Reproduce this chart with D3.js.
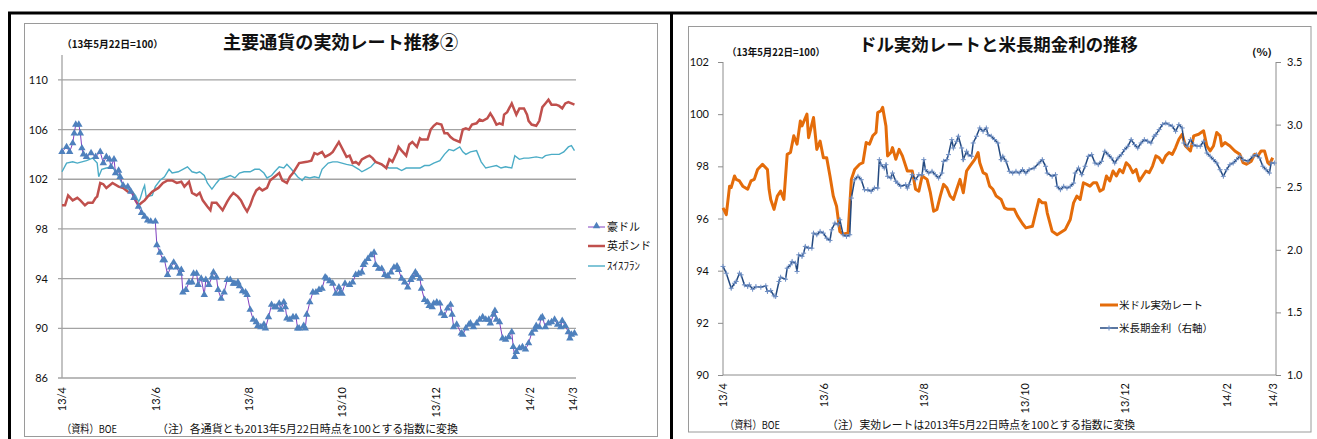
<!DOCTYPE html>
<html><head><meta charset="utf-8">
<script src="https://cdn.jsdelivr.net/npm/d3@7"></script>
<style>
body{margin:0;background:#fff}
svg{display:block}
text{font-family:Lato,"Noto Sans CJK JP",sans-serif;fill:#111}
</style>
</head><body>
<svg id="c" width="1317" height="439"></svg>
<script>
// ---------- DATA (days = days since 2013-04-01) ----------
const xTickDates = ["2013-04-01","2013-06-01","2013-08-01","2013-10-01","2013-12-01","2014-02-01","2014-03-01"];
const xTickLabels = ["13/4","13/6","13/8","13/10","13/12","14/2","14/3"];
const leftYTicks = [86,90,94,98,102,106,110];
const rightLYTicks = [90,92,94,96,98,100,102];
const rightRYTicks = [1.0,1.5,2.0,2.5,3.0,3.5];

const audDays = [0,3,5,7,8,9,11,12,13,14,16,19,22,25,27,29,31,32,34,35,37,38,40,43,45,47,50,52,54,56,58,61,62,64,66,67,69,71,73,75,77,78,79,81,83,85,86,88,89,91,93,94,96,98,99,101,102,104,106,108,110,112,113,115,116,118,120,121,123,125,127,128,130,132,133,135,137,139,140,142,143,145,146,147,149,151,153,154,155,158,159,160,162,164,166,168,170,172,173,175,177,179,181,182,183,185,188,190,192,194,196,197,198,200,202,204,205,207,209,211,213,215,217,219,220,222,224,226,228,229,231,232,234,235,237,239,240,242,243,245,247,248,250,252,254,255,256,258,261,262,264,266,267,269,271,273,275,277,279,280,282,283,284,286,288,290,292,294,295,296,297,299,301,303,305,307,309,310,312,313,314,316,318,320,322,324,326,327,329,331,332,333,335];
const audVals = [104.2,104.6,104.2,104.9,105.7,106.4,106.4,105.7,104.5,104.0,103.8,104.1,103.8,104.2,103.3,103.8,103.6,103.0,103.6,102.5,102.7,102.2,101.5,101.4,101.0,100.5,99.8,99.3,99.0,98.7,98.6,98.6,96.7,96.1,95.5,95.5,94.3,94.9,95.3,94.9,94.4,94.7,92.9,93.1,93.7,93.7,94.4,94.4,93.5,94.0,92.7,93.9,93.5,94.1,94.5,94.1,93.1,92.4,92.9,93.9,93.9,93.6,93.6,93.7,93.4,93.0,92.9,92.7,91.5,90.7,90.5,90.2,90.1,90.3,90.0,90.9,91.9,91.7,91.7,92.0,91.5,92.1,91.7,90.8,90.7,90.9,90.9,90.0,90.0,90.2,90.0,91.1,92.1,92.9,92.9,93.1,93.2,94.1,94.0,93.8,93.6,92.8,93.3,92.9,92.8,93.6,93.5,93.7,94.3,94.4,94.5,95.1,95.3,95.6,95.9,96.1,95.1,94.8,94.8,94.3,94.2,94.5,94.9,95.0,94.7,94.0,93.7,93.3,93.9,94.1,94.5,94.3,94.0,93.2,92.3,92.1,91.8,91.7,92.0,92.1,92.0,91.2,91.0,91.6,91.9,91.1,90.1,90.3,89.6,89.5,90.0,90.3,90.4,90.1,90.4,90.7,90.9,90.7,90.7,90.4,91.1,91.4,90.7,90.5,89.2,89.1,89.3,89.7,88.5,87.7,88.1,88.4,88.5,88.3,88.8,89.6,89.9,90.2,90.1,90.8,90.9,90.1,90.4,90.5,90.7,90.3,90.1,90.6,90.2,89.7,89.2,89.5,89.6];

const gbpDays = [0,2,4,7,10,12,15,17,20,22,23,25,27,29,31,33,37,40,43,46,48,50,52,54,56,59,63,66,69,72,75,78,80,83,85,88,90,92,95,97,98,101,103,105,108,110,112,115,117,119,121,123,125,127,129,131,134,136,139,142,144,147,149,151,153,155,160,163,165,167,170,172,175,177,179,181,186,188,190,192,194,196,199,201,203,205,207,209,212,214,216,219,220,222,225,227,229,232,234,235,239,241,243,245,248,250,252,254,256,260,262,264,266,268,271,273,275,278,280,282,284,286,288,289,291,294,296,297,299,302,304,305,307,310,312,314,316,318,320,323,325,327,329,331,335];
const gbpVals = [99.9,99.9,100.7,100.3,100.5,100.3,99.9,100.1,100.1,100.5,100.6,101.7,101.6,101.3,101.5,101.7,101.4,101.3,101.0,100.9,100.3,99.9,100.1,100.3,100.6,101.0,101.3,101.7,101.9,101.9,101.7,101.8,101.4,101.8,100.9,100.7,100.9,100.3,99.8,99.5,100.1,100.1,99.8,99.5,100.2,100.6,100.9,100.6,100.3,99.8,99.4,99.9,100.6,101.1,101.3,101.1,101.3,101.9,102.2,102.5,101.9,101.7,102.2,102.5,102.9,103.3,103.4,103.5,104.1,104.0,104.2,103.8,104.0,104.2,104.6,105.0,103.8,103.9,103.3,103.4,103.2,103.6,103.8,103.9,103.7,103.4,103.3,103.2,102.9,103.6,103.4,104.2,104.6,104.3,103.9,104.8,105.0,104.6,105.3,105.2,105.2,106.0,106.3,106.5,106.4,105.7,105.7,105.4,105.2,105.0,106.0,106.1,106.0,106.4,106.5,106.8,106.7,106.9,107.3,106.9,106.4,106.5,106.4,107.2,107.4,108.1,107.5,107.2,107.7,107.7,107.2,106.7,106.4,106.3,106.7,107.8,108.1,108.4,108.0,108.0,107.9,107.7,108.1,108.2,108.0];

const chfDays = [0,3,7,10,13,16,18,20,23,24,26,29,33,35,37,40,43,46,48,50,51,53,54,55,59,61,64,67,70,72,76,79,82,85,88,90,93,95,98,101,103,106,110,113,116,119,123,126,129,132,134,137,139,142,145,147,150,152,154,157,159,162,165,168,170,174,177,180,186,190,194,196,199,202,205,207,211,214,219,222,225,229,234,237,240,243,247,250,253,256,260,262,264,267,271,274,277,280,284,287,290,294,296,299,302,305,310,314,316,320,325,328,331,333,335];
const chfVals = [102.6,103.3,103.4,103.3,103.4,103.5,103.6,103.7,103.3,102.2,102.8,102.9,103.0,102.6,102.2,101.5,101.2,101.0,100.7,100.2,100.4,101.2,101.5,100.6,100.7,101.4,101.9,102.2,102.8,102.5,102.6,102.8,103.0,102.6,102.5,102.6,102.3,101.7,101.2,101.7,102.0,102.1,102.3,102.1,102.5,102.6,102.6,102.8,102.8,102.5,102.1,102.3,102.6,103.0,102.9,103.2,102.8,102.5,102.2,101.9,102.2,102.1,102.2,102.1,102.8,103.3,103.4,103.4,103.2,103.1,102.8,102.6,102.8,103.0,103.4,103.3,103.0,102.9,102.9,102.7,102.9,102.9,102.9,103.1,103.1,103.3,103.5,104.0,104.4,104.3,104.6,104.2,104.0,104.2,104.3,103.4,102.9,103.0,103.1,102.9,103.0,102.9,103.9,103.6,103.7,103.7,103.8,103.7,103.9,104.0,104.0,104.2,104.6,104.7,104.3];

const usdDays = [0,2,4,5,7,8,10,12,15,17,19,21,24,27,28,29,31,33,35,37,39,41,43,45,47,48,51,52,55,57,59,61,63,65,67,69,71,73,76,78,80,83,85,87,89,91,93,94,96,97,99,100,102,103,105,107,109,112,115,117,119,121,124,126,128,130,132,134,136,138,140,142,144,146,148,150,153,155,156,158,160,162,164,166,169,171,173,175,177,179,182,184,188,190,192,194,196,197,200,203,208,211,213,215,217,219,221,223,225,227,229,231,233,235,237,239,241,243,245,247,249,251,253,255,257,259,261,263,265,267,269,271,273,275,277,279,281,284,286,289,292,294,296,298,300,302,303,305,308,311,314,316,318,321,323,325,327,329,331,332,334];
const usdVals = [96.41,96.15,97.24,97.19,97.63,97.5,97.44,97.24,97.12,97.44,97.5,97.88,98.08,97.88,97.12,96.73,96.35,96.86,97.05,96.73,98.46,98.53,99.17,98.85,99.74,99.55,100.0,99.1,99.87,98.65,98.97,98.33,98.33,97.63,96.86,96.47,95.5,95.4,95.45,97.5,97.88,98.08,98.14,98.91,98.85,99.17,99.3,100.06,100.13,100.26,99.55,98.4,98.53,98.72,98.27,98.65,98.4,97.82,97.82,97.12,97.05,97.63,97.5,96.99,96.28,96.35,96.86,97.31,97.18,96.86,96.73,97.12,97.5,96.99,97.82,98.01,98.27,98.53,98.14,97.76,97.69,97.24,97.12,96.86,96.73,96.41,96.35,96.35,96.35,96.09,95.8,95.64,95.7,96.22,96.73,96.6,96.6,96.22,95.51,95.38,95.58,95.96,96.6,96.86,96.73,97.37,97.31,97.24,97.37,97.37,97.05,97.12,97.63,97.44,97.82,97.63,97.88,97.76,98.14,98.01,97.76,97.88,97.44,97.63,97.82,97.76,98.01,98.4,98.33,98.14,98.4,98.53,98.46,98.72,99.04,99.23,98.78,98.59,99.17,99.23,99.36,98.78,98.59,98.78,99.3,99.17,98.78,98.91,98.78,98.59,98.46,98.14,98.08,98.2,98.46,98.4,98.59,98.59,98.14,98.08,98.33];

const rateDays = [0,2,5,7,8,10,11,13,15,16,18,20,23,26,27,29,31,32,34,35,38,39,41,42,44,45,46,48,49,50,52,54,55,57,59,61,63,65,66,68,70,71,73,75,77,78,80,82,84,86,88,90,92,94,95,96,98,99,100,102,103,105,106,108,111,112,113,115,117,119,121,122,123,125,127,129,131,133,134,136,137,139,140,142,143,145,146,148,149,151,152,154,156,158,160,161,163,165,167,169,170,172,174,176,178,180,182,184,186,189,192,194,196,197,200,202,203,205,207,209,211,213,214,216,218,220,222,224,226,228,230,232,234,236,238,240,242,244,246,248,250,252,254,256,258,260,262,263,265,267,269,271,273,275,277,279,280,282,284,286,288,290,292,294,296,298,300,302,304,306,308,310,312,314,316,319,322,324,326,328,330,332,333,335];
const rateVals = [1.867,1.813,1.693,1.733,1.747,1.813,1.8,1.72,1.707,1.72,1.685,1.707,1.701,1.712,1.667,1.675,1.632,1.627,1.747,1.781,1.765,1.853,1.88,1.907,1.893,1.827,1.96,1.947,1.973,2.027,2.013,2.013,2.133,2.12,2.147,2.133,2.093,2.075,2.16,2.213,2.2,2.24,2.12,2.107,2.12,2.413,2.56,2.587,2.56,2.48,2.48,2.467,2.493,2.493,2.72,2.68,2.653,2.68,2.587,2.573,2.613,2.547,2.533,2.507,2.52,2.493,2.52,2.6,2.56,2.6,2.6,2.72,2.64,2.613,2.627,2.6,2.573,2.613,2.707,2.72,2.76,2.88,2.813,2.867,2.907,2.813,2.72,2.787,2.76,2.747,2.853,2.907,2.973,2.947,2.973,2.92,2.907,2.88,2.853,2.72,2.747,2.707,2.627,2.613,2.627,2.613,2.64,2.613,2.64,2.653,2.693,2.72,2.667,2.613,2.587,2.6,2.507,2.48,2.507,2.493,2.507,2.533,2.613,2.653,2.6,2.667,2.747,2.76,2.693,2.68,2.707,2.787,2.76,2.733,2.693,2.733,2.76,2.8,2.827,2.88,2.84,2.813,2.853,2.88,2.867,2.853,2.907,2.92,2.96,3.0,3.013,3.0,2.987,2.947,3.0,2.973,2.853,2.827,2.88,2.84,2.827,2.827,2.867,2.773,2.747,2.72,2.693,2.64,2.587,2.64,2.68,2.693,2.72,2.747,2.72,2.707,2.747,2.76,2.733,2.667,2.64,2.613,2.693,2.693];

const leftTitle = "主要通貨の実効レート推移②";
const rightTitle = "ドル実効レートと米長期金利の推移";
const unitLabel = "（13年5月22日=100）";
const leftSeriesNames = ["豪ドル","英ポンド","ｽｲｽﾌﾗﾝ"];
const rightSeriesNames = ["米ドル実効レート","米長期金利（右軸）"];
const sourceNote = "（資料）BOE";
const leftNote = "（注）各通貨とも2013年5月22日時点を100とする指数に変換";
const rightNote = "（注）実効レートは2013年5月22日時点を100とする指数に変換";

// ---------- helpers ----------
const base = new Date(2013,3,1);
const toDate = d => new Date(2013,3,1+d);
const zipSeries = (days, vals) => d3.range(Math.min(days.length, vals.length)).map(i => ({date: toDate(days[i]), v: vals[i]}));
const parse = d3.timeParse("%Y-%m-%d");
const tickDates = xTickDates.map(parse);
const labelOf = d => xTickLabels[tickDates.findIndex(t => +t === +d)];

const svg = d3.select("#c");
svg.append("rect").attr("width",1317).attr("height",439).attr("fill","#fff");

// frames
svg.append("rect").attr("x",24.5).attr("y",23.5).attr("width",633).attr("height",413).attr("fill","none").attr("stroke","#9a9a9a");
svg.append("rect").attr("x",688.5).attr("y",26.5).attr("width",622.5).attr("height",405.5).attr("fill","none").attr("stroke","#9a9a9a");
svg.append("line").attr("x1",8).attr("x2",1317).attr("y1",13).attr("y2",13).attr("stroke","#000").attr("stroke-width",3);
svg.append("line").attr("x1",9.5).attr("x2",9.5).attr("y1",12).attr("y2",439).attr("stroke","#000").attr("stroke-width",3);
svg.append("line").attr("x1",671.5).attr("x2",671.5).attr("y1",12).attr("y2",439).attr("stroke","#000").attr("stroke-width",3);

function txt(g, s, x, y, size, opts={}) {
  const t = g.append("text").attr("x",x).attr("y",y).attr("font-size",size).text(s);
  if (opts.bold) t.attr("font-weight","bold");
  if (opts.anchor) t.attr("text-anchor",opts.anchor);
  if (opts.len) t.attr("textLength",opts.len).attr("lengthAdjust","spacingAndGlyphs");
  if (opts.jp) t.style("font-family",'"Noto Sans CJK JP",sans-serif');
  return t;
}

// ================= LEFT CHART =================
{
  const g = svg.append("g");
  const x = d3.scaleTime().domain([base, new Date(2014,2,3)]).range([62,576]);
  const y = d3.scaleLinear().domain([86,112]).range([378,55]);

  // gridlines
  g.append("g").selectAll("line").data(leftYTicks).join("line")
    .attr("x1",58).attr("x2",576).attr("y1",d=>y(d)).attr("y2",d=>y(d))
    .attr("stroke","#a3a3a3").attr("stroke-width",1.3);

  const ya = g.append("g").attr("transform","translate(62,0)")
    .call(d3.axisLeft(y).tickValues(leftYTicks).tickSize(0).tickPadding(14).tickFormat(d3.format("d")));
  ya.select(".domain").attr("stroke","#a3a3a3").attr("stroke-width",1.3).attr("d","M0,55V378");
  ya.selectAll("text").attr("font-size",11).style("font-family","Lato,sans-serif").attr("fill","#222");

  const xa = g.append("g").attr("transform","translate(0,378)")
    .call(d3.axisBottom(x).tickValues(tickDates).tickSize(0).tickFormat(labelOf));
  xa.select(".domain").remove();
  xa.selectAll("text").attr("font-size",11).style("font-family","Lato,sans-serif").attr("fill","#222")
    .attr("transform","rotate(-90)").attr("text-anchor","end").attr("x",-9).attr("y",0).attr("dy","0.35em");

  const line = d3.line().x(d=>x(d.date)).y(d=>y(d.v));
  const chf = zipSeries(chfDays, chfVals), gbp = zipSeries(gbpDays, gbpVals), aud = zipSeries(audDays, audVals);
  g.append("path").datum(chf).attr("d",line).attr("fill","none").attr("stroke","#4BACC6").attr("stroke-width",1.4);
  g.append("path").datum(gbp).attr("d",line).attr("fill","none").attr("stroke","#C0504D").attr("stroke-width",2.5);
  g.append("path").datum(aud).attr("d",line).attr("fill","none").attr("stroke","#8040C0").attr("stroke-width",1);
  const tri = d3.symbol(d3.symbolTriangle, 24);
  g.append("g").selectAll("path").data(aud).join("path")
    .attr("transform",d=>`translate(${x(d.date)},${y(d.v)})`).attr("d",tri).attr("fill","#4F81BD");

  // titles
  txt(g, leftTitle, 223, 49, 18, {bold:true, len:235, jp:true});
  txt(g, unitLabel, 62, 48, 10, {bold:true, len:101, jp:true});

  // legend
  const lg = g.append("g");
  const ly = [227,246,266];
  const lc = ["#8040C0","#C0504D","#4BACC6"], lw = [1,2.5,1.4];
  ly.forEach((yy,i)=>{
    lg.append("line").attr("x1",588).attr("x2",605).attr("y1",yy).attr("y2",yy).attr("stroke",lc[i]).attr("stroke-width",lw[i]);
    txt(lg, leftSeriesNames[i], 607, yy+4, 11, {jp:true});
  });
  lg.append("path").attr("transform","translate(596.5,226)").attr("d",tri).attr("fill","#4F81BD");

  // notes
  txt(g, sourceNote, 62, 433, 11, {jp:true, len:55});
  txt(g, leftNote, 157, 433, 11, {jp:true, len:301});
}

// ================= RIGHT CHART =================
{
  const g = svg.append("g");
  const x = d3.scaleTime().domain([base, new Date(2014,2,3)]).range([723,1276]);
  const yL = d3.scaleLinear().domain([90,102]).range([375,62]);
  const yR = d3.scaleLinear().domain([1,3.5]).range([375,62]);

  const la = g.append("g").attr("transform","translate(723,0)")
    .call(d3.axisLeft(yL).tickValues(rightLYTicks).tickSize(5).tickPadding(9).tickFormat(d3.format("d")));
  la.select(".domain").attr("stroke","#8c8c8c").attr("d","M0,62V375");
  la.selectAll(".tick line").attr("stroke","#8c8c8c");
  la.selectAll("text").attr("font-size",11).style("font-family","Lato,sans-serif").attr("fill","#222");

  const ra = g.append("g").attr("transform","translate(1276,0)")
    .call(d3.axisRight(yR).tickValues(rightRYTicks).tickSize(5).tickPadding(6).tickFormat(d3.format(".1f")));
  ra.select(".domain").attr("stroke","#8c8c8c").attr("d","M0,62V375");
  ra.selectAll(".tick line").attr("stroke","#8c8c8c");
  ra.selectAll("text").attr("font-size",11).style("font-family","Lato,sans-serif").attr("fill","#222");

  const xa = g.append("g").attr("transform","translate(0,375)")
    .call(d3.axisBottom(x).tickValues(tickDates).tickSize(0).tickFormat(labelOf));
  xa.select(".domain").attr("stroke","#8c8c8c").attr("d","M723,0H1276");
  xa.selectAll("text").attr("font-size",11).style("font-family","Lato,sans-serif").attr("fill","#222")
    .attr("transform","rotate(-90)").attr("text-anchor","end").attr("x",-8).attr("y",0).attr("dy","0.35em");

  const usd = zipSeries(usdDays, usdVals), rate = zipSeries(rateDays, rateVals);
  g.append("path").datum(usd).attr("d", d3.line().x(d=>x(d.date)).y(d=>yL(d.v)))
    .attr("fill","none").attr("stroke","#E46C0A").attr("stroke-width",3).attr("stroke-linejoin","round");
  g.append("path").datum(rate).attr("d", d3.line().x(d=>x(d.date)).y(d=>yR(d.v)))
    .attr("fill","none").attr("stroke","#23497F").attr("stroke-width",1.5);
  const cross = "M-2.5,0H2.5M0,-2.5V2.5";
  g.append("g").selectAll("path").data(rate).join("path")
    .attr("transform",d=>`translate(${x(d.date)},${yR(d.v)})`).attr("d",cross)
    .attr("stroke","#6F8FC4").attr("stroke-width",1);

  txt(g, rightTitle, 859, 51, 17.5, {bold:true, len:279, jp:true});
  txt(g, unitLabel, 727, 56, 10, {bold:true, len:98, jp:true});
  txt(g, "(%)", 1252, 56, 10, {bold:true, len:20, jp:true});

  // legend
  g.append("line").attr("x1",1100).attr("x2",1118).attr("y1",305).attr("y2",305).attr("stroke","#E46C0A").attr("stroke-width",3);
  txt(g, rightSeriesNames[0], 1119, 309, 10.5, {jp:true, len:84});
  g.append("line").attr("x1",1100).attr("x2",1118).attr("y1",328).attr("y2",328).attr("stroke","#23497F").attr("stroke-width",1.5);
  g.append("path").attr("transform","translate(1109,328)").attr("d",cross).attr("stroke","#6F8FC4").attr("stroke-width",1);
  txt(g, rightSeriesNames[1], 1119, 332, 10.5, {jp:true, len:94});

  txt(g, sourceNote, 725, 429, 11, {jp:true, len:55});
  txt(g, rightNote, 827, 429, 11, {jp:true, len:308});
}
</script>
</body></html>
